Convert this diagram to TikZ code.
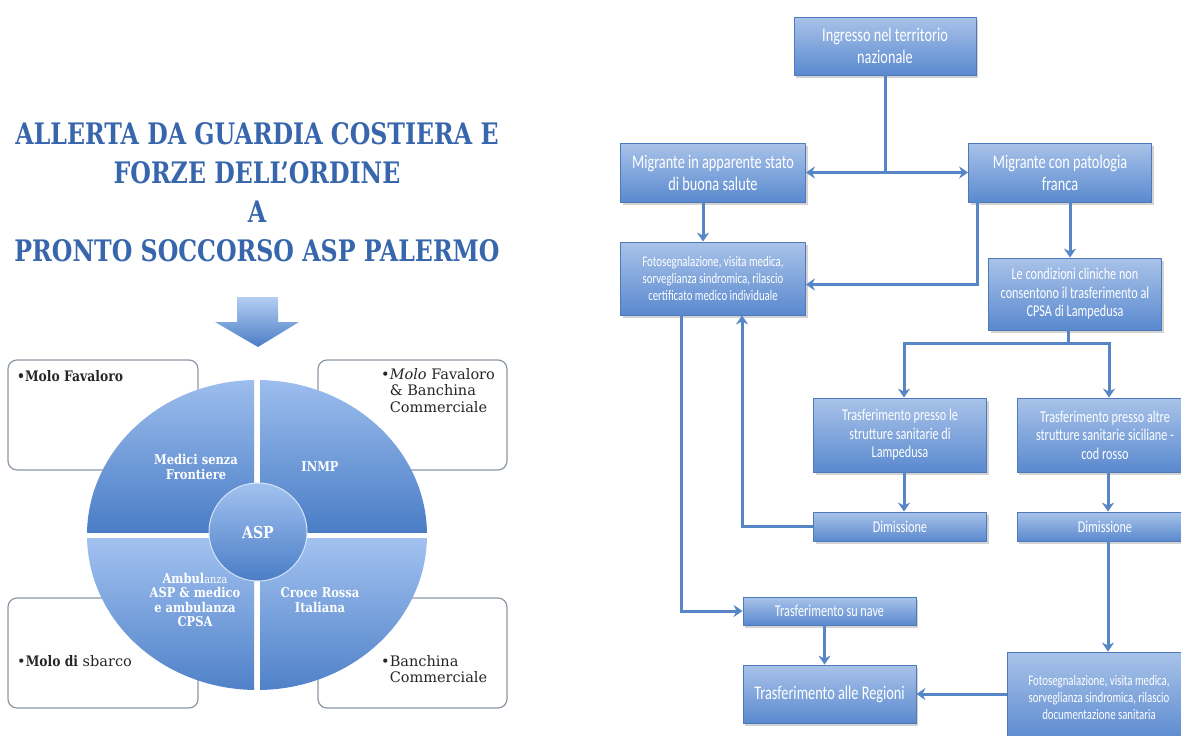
\documentclass[tikz,border=0pt]{standalone}
\usepackage{fontspec}
\usetikzlibrary{arrows.meta,shadows}
\newfontfamily\flowfont[FakeStretch=0.74]{Carlito}
\newfontfamily\serfont{DejaVu Serif}
\newfontfamily\sernarrow[FakeStretch=0.85]{DejaVu Serif}
\newfontfamily\titlefont[FakeStretch=0.8]{DejaVu Serif}
\definecolor{titleblue}{HTML}{3866AD}
\definecolor{flowtop}{HTML}{A9C3E9}
\definecolor{flowbot}{HTML}{5A89CF}
\definecolor{flowedge}{HTML}{5079BA}
\definecolor{linkblue}{HTML}{5686C6}
\definecolor{quadtop}{HTML}{A2C2F0}
\definecolor{quadbot}{HTML}{4A7DC6}
\definecolor{cornerline}{HTML}{8D98A7}
\tikzset{
  flowbox/.style={draw=flowedge, line width=0.8pt, top color=flowtop, bottom color=flowbot,
    text=white, align=center, inner sep=2pt,
    drop shadow={shadow xshift=2pt, shadow yshift=-2.5pt, opacity=0.35}},
  bigtext/.style={font=\flowfont\fontsize{19.3}{22}\selectfont},
  midtext/.style={font=\flowfont\fontsize{16.5}{18.5}\selectfont},
  smalltext/.style={font=\flowfont\fontsize{14.6}{17}\selectfont},
  link/.style={draw=linkblue, line width=3pt},
  arr/.style={link, -{Stealth[length=9pt,width=12pt,inset=3pt]}},
  dblarr/.style={link, {Stealth[length=9pt,width=12pt,inset=3pt]}-{Stealth[length=9pt,width=12pt,inset=3pt]}},
  cornerbox/.style={draw=cornerline, line width=1.2pt, fill=white, rounded corners=9pt},
  cornertext/.style={font=\serfont\fontsize{14.5}{16.7}\selectfont, text=black!85, align=left, inner sep=0pt},
  quadlabel/.style={font=\sernarrow\bfseries\fontsize{13.5}{14.5}\selectfont, text=white, align=center}
}
\begin{document}
\begin{tikzpicture}[x=1pt, y=-1pt]
	\useasboundingbox (0,0) rectangle (1181,736);
	\clip (0,0) rectangle (1181,736);
	% left: title and block arrow
	\node[font=\titlefont\bfseries\fontsize{29.6}{39}\selectfont, text=titleblue, align=center] (title) at (257,192)
		{ALLERTA DA GUARDIA COSTIERA E\\FORZE DELL’ORDINE\\A\\PRONTO SOCCORSO ASP PALERMO};
	\shade[top color=quadtop!80!white, bottom color=quadbot] (237,297) -- (278,297) -- (278,322) -- (299,322)
		-- (258,347) -- (215,322) -- (237,322) -- cycle;
	% corner boxes
	\draw[cornerbox] (8,360) rectangle (198,470);
	\draw[cornerbox] (318,360) rectangle (507,470);
	\draw[cornerbox] (8,598) rectangle (198,708);
	\draw[cornerbox] (318,598) rectangle (507,708);
	\node[cornertext, anchor=north west] (molotl) at (17,370) {{\sernarrow\bfseries •Molo Favaloro}};
	\node[cornertext, anchor=north west] (molotr) at (381,368)
		{•\textit{Molo} Favaloro\\\hphantom{•}\& Banchina\\\hphantom{•}Commerciale};
	\node[cornertext, anchor=north west] (molobl) at (17,655) {•{\sernarrow\bfseries Molo di} sbarco};
	\node[cornertext, anchor=north west] (molobr) at (381,655) {•Banchina\\\hphantom{•}Commerciale};
	% circle in four quarters
	\begin{scope}
		\clip (257,535) ellipse [x radius=170, y radius=155];
		\shade[top color=quadtop, bottom color=quadbot] (80,370) rectangle (254,532);
		\shade[top color=quadtop, bottom color=quadbot] (260,370) rectangle (440,532);
		\shade[top color=quadtop, bottom color=quadbot] (80,538) rectangle (254,700);
		\shade[top color=quadtop, bottom color=quadbot] (260,538) rectangle (440,700);
	\end{scope}
	\node[circle, minimum size=98pt, top color=quadtop, bottom color=quadbot, draw=white!55!quadtop, line width=1pt,
		font=\sernarrow\bfseries\fontsize{16.5}{18}\selectfont, text=white] (asp) at (258,532) {ASP};
	\node[quadlabel] (medici) at (196,467) {Medici senza\\Frontiere};
	\node[quadlabel] (inmp) at (320,467) {INMP};
	\node[quadlabel] (ambul) at (195,600)
		{Ambul{\mdseries\fontsize{11.5}{14.5}\selectfont anza}\\ASP \& medico\\e ambulanza\\CPSA};
	\node[quadlabel] (croce) at (320,600) {Croce Rossa\\Italiana};
	% right: flow chart
	\node[flowbox, bigtext, minimum width=182pt, minimum height=58pt] (ingresso) at (885,46) {Ingresso nel territorio\\nazionale};
	\node[flowbox, bigtext, minimum width=185pt, minimum height=59pt] (sano) at (713,172.5) {Migrante in apparente stato\\di buona salute};
	\node[flowbox, bigtext, minimum width=183pt, minimum height=59pt] (patol) at (1060,172.5) {Migrante con patologia\\franca};
	\node[flowbox, smalltext, minimum width=185pt, minimum height=73pt] (fotoa) at (713,278.5)
		{Fotosegnalazione, visita medica,\\sorveglianza sindromica, rilascio\\certificato medico individuale};
	\node[flowbox, midtext, minimum width=173pt, minimum height=72pt] (cond) at (1075,294)
		{Le condizioni cliniche non\\consentono il trasferimento al\\CPSA di Lampedusa};
	\node[flowbox, midtext, minimum width=173pt, minimum height=74pt] (lampe) at (900,435)
		{Trasferimento presso le\\strutture sanitarie di\\Lampedusa};
	\node[flowbox, midtext, minimum width=176pt, minimum height=74pt] (altre) at (1105,435)
		{Trasferimento presso altre\\strutture sanitarie siciliane -\\cod rosso};
	\node[flowbox, midtext, minimum width=173pt, minimum height=29pt] (dima) at (900,526.5) {Dimissione};
	\node[flowbox, midtext, minimum width=176pt, minimum height=29pt] (dimb) at (1105,526.5) {Dimissione};
	\node[flowbox, midtext, minimum width=173pt, minimum height=28pt] (nave) at (829.5,611) {Trasferimento su nave};
	\node[flowbox, bigtext, minimum width=173pt, minimum height=58pt] (regioni) at (829.5,694)
		{Trasferimento alle Regioni};
	\node[flowbox, smalltext, minimum width=184pt, minimum height=90pt] (fotob) at (1099,697)
		{Fotosegnalazione, visita medica,\\sorveglianza sindromica, rilascio\\documentazione sanitaria};
	% connectors
	\draw[link] (ingresso.south) -- (ingresso.south |- sano.east);
	\draw[dblarr] (sano.east) -- (patol.west);
	\draw[arr] ([xshift=-10pt]sano.south) -- ([xshift=-10pt]fotoa.north);
	\draw[arr] ([xshift=9pt]patol.south west) |- ([yshift=-6pt]fotoa.east);
	\draw[arr] ([xshift=-5pt]cond.north |- patol.south) -- ([xshift=-5pt]cond.north);
	\draw[link] ([xshift=-7pt]cond.south) -- ++(0,13) coordinate (forkc);
	\draw[arr] (forkc) -| ([xshift=4pt]lampe.north);
	\draw[arr] (forkc) -| ([xshift=4pt]altre.north);
	\draw[arr] ([xshift=4pt]lampe.south) -- ([xshift=4pt]dima.north);
	\draw[arr] ([xshift=3pt]altre.south) -- ([xshift=3pt]dimb.north);
	\draw[arr] (dima.west) -| ([xshift=29pt]fotoa.south);
	\draw[arr] ([xshift=-32pt]fotoa.south) |- (nave.west);
	\draw[arr] ([xshift=-5pt]nave.south) -- ([xshift=-5pt]regioni.north);
	\draw[arr] ([xshift=3pt]dimb.south) -- ([xshift=3pt]dimb.south |- fotob.north);
	\draw[arr] (fotob.west |- regioni.east) -- (regioni.east);
\end{tikzpicture}
\end{document}
